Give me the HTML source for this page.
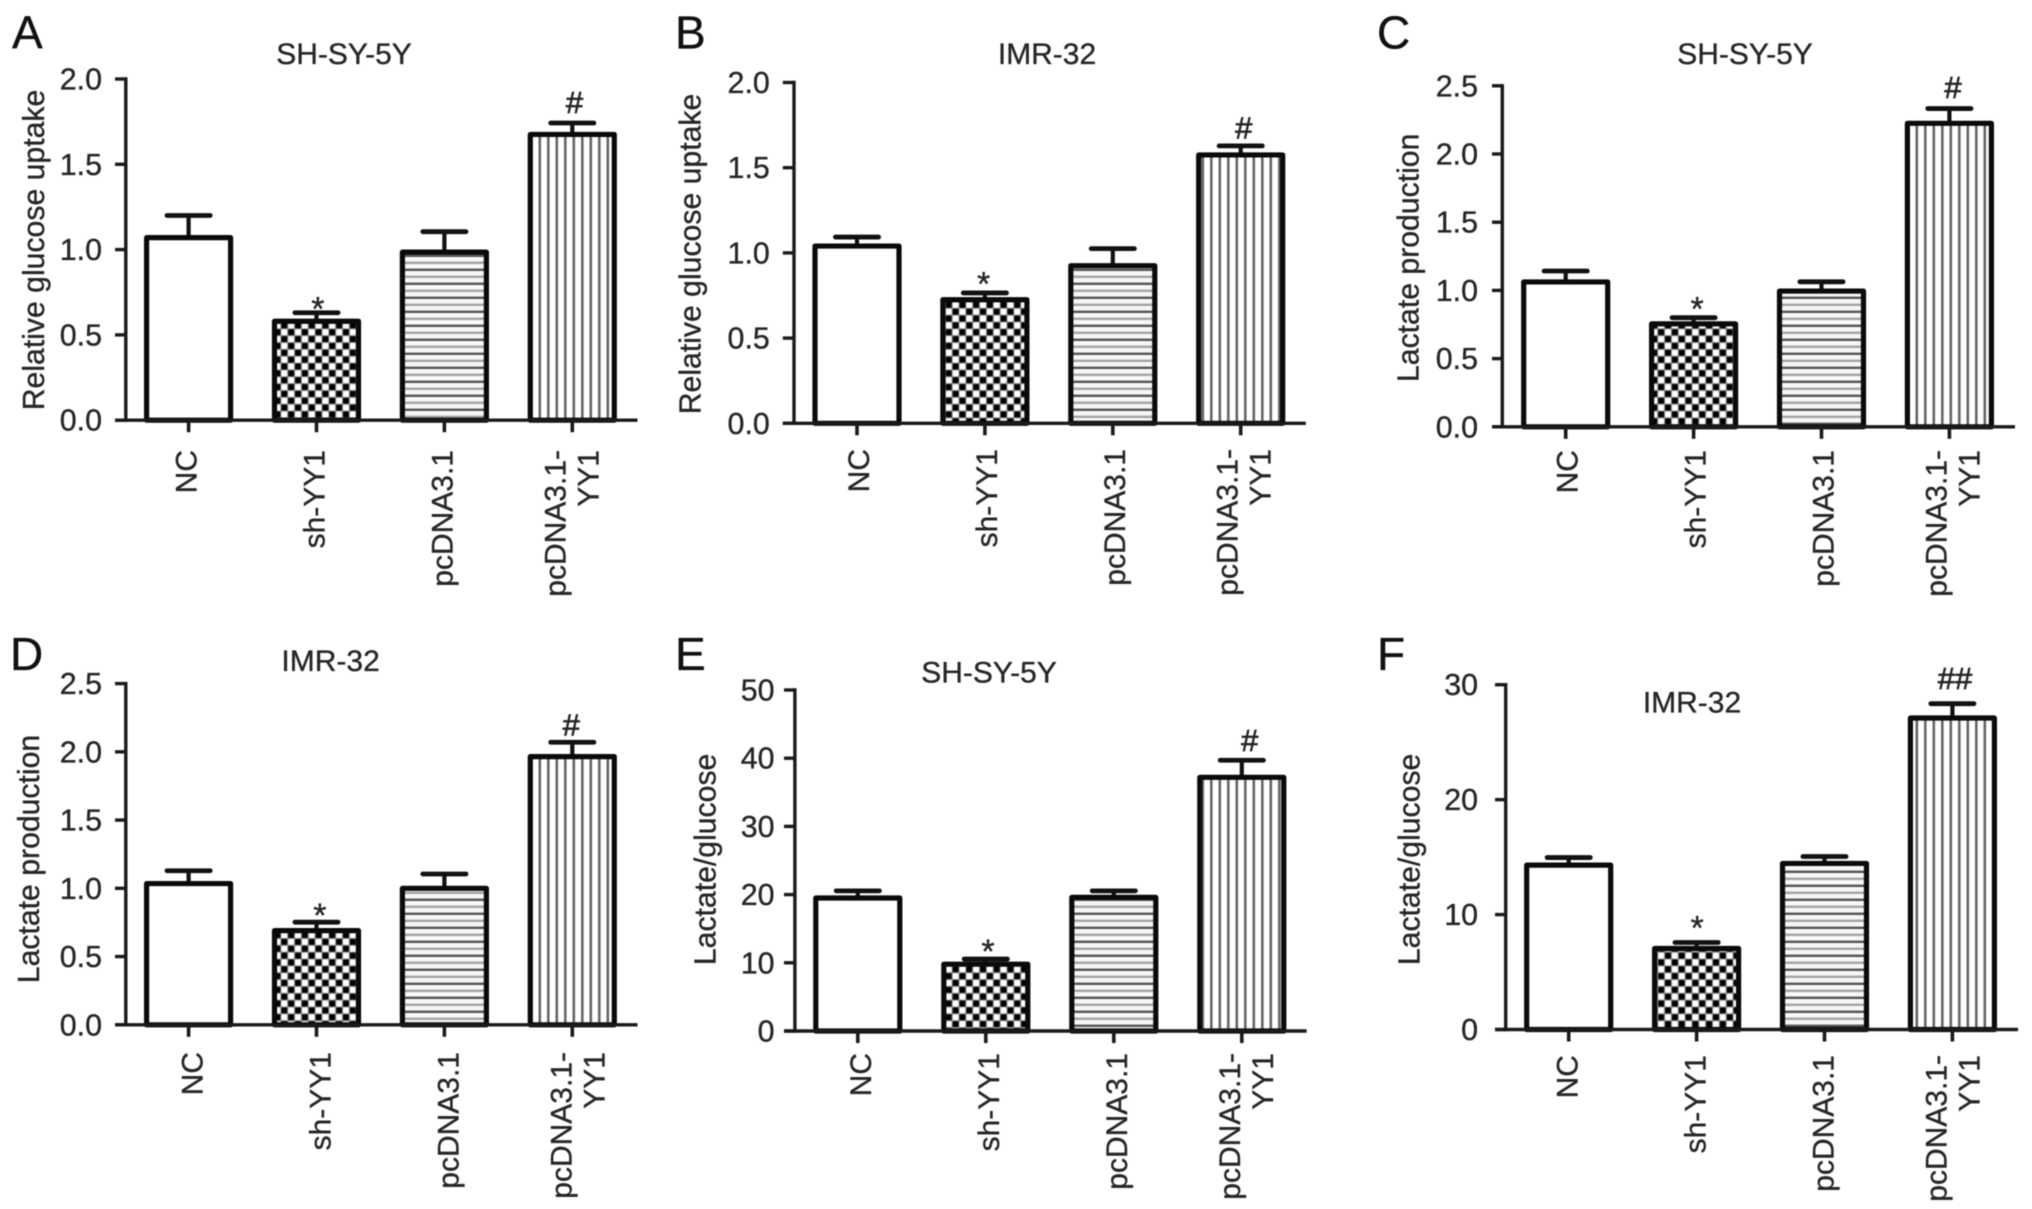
<!DOCTYPE html>
<html lang="en">
<head>
<meta charset="utf-8">
<title>Glucose uptake and lactate production panels</title>
<style>
html,body{margin:0;padding:0;background:#fff;width:2032px;height:1209px;overflow:hidden}
svg{display:block;filter:blur(0.6px)}
text{font-family:"Liberation Sans",Arial,sans-serif;fill:#262626;stroke:#262626;stroke-width:0.35px}
</style>
</head>
<body>
<svg id="figure" xmlns="http://www.w3.org/2000/svg" width="2032" height="1209" viewBox="0 0 2032 1209">
  <defs>
    <pattern id="fill-check" patternUnits="userSpaceOnUse" width="13.7" height="13.7">
      <rect width="13.7" height="13.7" fill="#8a8a8a"/>
      <rect x="0.6" y="0.6" width="5.7" height="5.7" fill="#000"/>
      <rect x="7.45" y="7.45" width="5.7" height="5.7" fill="#000"/>
      <rect x="7.45" y="0.6" width="5.7" height="5.7" fill="#fff"/>
      <rect x="0.6" y="7.45" width="5.7" height="5.7" fill="#fff"/>
    </pattern>
    <pattern id="fill-horizontal" patternUnits="userSpaceOnUse" width="10" height="14">
      <rect width="10" height="14" fill="#f6f6f6"/>
      <rect x="0" y="2.6" width="10" height="2.4" fill="#555"/>
      <rect x="0" y="9.6" width="10" height="2.4" fill="#a4a4a4"/>
    </pattern>
    <pattern id="fill-vertical" patternUnits="userSpaceOnUse" width="8.5" height="10">
      <rect width="8.5" height="10" fill="#fff"/>
      <rect x="3" y="0" width="2.6" height="10" fill="#666"/>
    </pattern>
  </defs>
  <g id="chart-root"></g>
</svg>
<script>
// Shared categories and tick labels
const categories = ['NC', 'sh-YY1', 'pcDNA3.1', 'pcDNA3.1-|YY1'];
const ticksGlucose = [0, 0.5, 1, 1.5, 2];
const ticksLactate = [0, 0.5, 1, 1.5, 2, 2.5];
const ticksRatioE = [0, 10, 20, 30, 40, 50];
const ticksRatioF = [0, 10, 20, 30];

// Bar means
const meansA = [1.07, 0.58, 0.985, 1.675];
const meansB = [1.04, 0.725, 0.925, 1.575];
const meansC = [1.062, 0.755, 0.995, 2.225];
const meansD = [1.035, 0.69, 1.0, 1.965];
const meansE = [19.5, 9.8, 19.6, 37.2];
const meansF = [14.3, 7.05, 14.45, 27.1];

// Upper error sizes
const errorsA = [0.13, 0.05, 0.12, 0.067];
const errorsB = [0.053, 0.04, 0.1, 0.053];
const errorsC = [0.08, 0.045, 0.068, 0.108];
const errorsD = [0.094, 0.062, 0.105, 0.105];
const errorsE = [1.05, 0.75, 0.95, 2.5];
const errorsF = [0.66, 0.52, 0.6, 1.25];

// Significance marks for each category
const marksA = ['', '*', '', '#'];
const marksB = ['', '*', '', '#'];
const marksC = ['', '*', '', '#'];
const marksD = ['', '*', '', '#'];
const marksE = ['', '*', '', '#'];
const marksF = ['', '*', '', '##'];

const fills = ['#fff', 'url(#fill-check)', 'url(#fill-horizontal)', 'url(#fill-vertical)'];
const barSlugs = ['nc', 'sh-yy1', 'pcdna', 'pcdna-yy1'];

const panels = [
  {id:'a', letter:'A', lx:12, ly:48.6, title:'SH-SY-5Y', tx:344, ty:64, yTitle:'Relative glucose uptake', ytx:44, yty:250,
   axisX:125.8, top:79, bottom:420.2, tickLeft:115, xEnd:637.5, cx0:188.6, step:127.9, max:2, ticks:ticksGlucose, dec:1, labelGap:13,
   labelDx:8, labelTop:450, means:meansA, errors:errorsA, marks:marksA, starGap:9, starDx:1.4, hashGap:9.8, hashDx:2.2},
  {id:'b', letter:'B', lx:675, ly:48.6, title:'IMR-32', tx:1047, ty:64, yTitle:'Relative glucose uptake', ytx:700.5, yty:254,
   axisX:794, top:82.5, bottom:423.3, tickLeft:782.8, xEnd:1305.8, cx0:857, step:127.9, max:2, ticks:ticksGlucose, dec:1, labelGap:13,
   labelDx:12, labelTop:449, means:meansB, errors:errorsB, marks:marksB, starGap:14.4, starDx:-1.3, hashGap:7.5, hashDx:3},
  {id:'c', letter:'C', lx:1377, ly:48.6, title:'SH-SY-5Y', tx:1745, ty:64, yTitle:'Lactate production', ytx:1418.5, yty:257.8,
   axisX:1502.3, top:85.8, bottom:426.8, tickLeft:1492, xEnd:2015, cx0:1565.7, step:127.9, max:2.5, ticks:ticksLactate, dec:1, labelGap:14,
   labelDx:12, labelTop:450, means:meansC, errors:errorsC, marks:marksC, starGap:14, starDx:3.5, hashGap:10.6, hashDx:3.6},
  {id:'d', letter:'D', lx:10, ly:670, title:'IMR-32', tx:330.6, ty:671, yTitle:'Lactate production', ytx:39, yty:859,
   axisX:125.8, top:683.6, bottom:1024.8, tickLeft:115, xEnd:637.5, cx0:188.6, step:127.9, max:2.5, ticks:ticksLactate, dec:1, labelGap:13,
   labelDx:14, labelTop:1052, means:meansD, errors:errorsD, marks:marksD, starGap:12, starDx:3.4, hashGap:7, hashDx:-1},
  {id:'e', letter:'E', lx:675, ly:670, title:'SH-SY-5Y', tx:989, ty:682.6, yTitle:'Lactate/glucose', ytx:715.5, yty:859.4,
   axisX:794.9, top:690, bottom:1031, tickLeft:784, xEnd:1306.6, cx0:857.8, step:128, max:50, ticks:ticksRatioE, dec:0, labelGap:9.5,
   labelDx:13, labelTop:1053, means:meansE, errors:errorsE, marks:marksE, starGap:13, starDx:2.2, hashGap:9, hashDx:8},
  {id:'f', letter:'F', lx:1377, ly:670, title:'IMR-32', tx:1692, ty:712.4, yTitle:'Lactate/glucose', ytx:1419.5, yty:859.4,
   axisX:1505.7, top:684.7, bottom:1029.5, tickLeft:1495, xEnd:2018, cx0:1568.7, step:127.9, max:30, ticks:ticksRatioF, dec:0, labelGap:17,
   labelDx:9, labelTop:1055, means:meansF, errors:errorsF, marks:marksF, starGap:20, starDx:0.5, hashGap:14.5, hashDx:2.6}
];

const NS = 'http://www.w3.org/2000/svg';
const root = document.getElementById('chart-root');

function make(tag, parent, attrs) {
  const node = document.createElementNS(NS, tag);
  for (const key in attrs) node.setAttribute(key, attrs[key]);
  parent.appendChild(node);
  return node;
}

function yScale(p, value) {
  return p.bottom - (value / p.max) * (p.bottom - p.top);
}

function xScale(p, index) {
  return p.cx0 + index * p.step;
}

function drawPanel(p) {
  const g = make('g', root, {});
  
  

  const letter = make('text', g, {x:p.lx, y:p.ly, 'font-size':46, style:'fill:#111;stroke:#111'});
  letter.textContent = p.letter;
  
  

  const title = make('text', g, {x:p.tx, y:p.ty, 'font-size':30, 'text-anchor':'middle'});
  title.textContent = p.title;
  
  

  const yTitle = make('text', g, {x:p.ytx, y:p.yty, 'font-size':30.2, 'text-anchor':'middle', transform:'rotate(-90 ' + p.ytx + ' ' + p.yty + ')'});
  yTitle.textContent = p.yTitle;
  
  

  p.means.forEach(function (mean, i) {
    const cx = xScale(p, i);
    const yTop = yScale(p, mean);
    const yCap = yScale(p, mean + p.errors[i]);

    const stem = make('line', g, {x1:cx, x2:cx, y1:yTop, y2:yCap, stroke:'#111', 'stroke-width':4.2});
    
    

    const cap = make('line', g, {x1:cx - 21.6, x2:cx + 21.6, y1:yCap, y2:yCap, stroke:'#111', 'stroke-width':4.8, 'stroke-linecap':'round'});
    
    

    const bar = make('rect', g, {x:cx - 42, y:yTop, width:84, height:p.bottom - yTop, fill:fills[i], stroke:'#0a0a0a', 'stroke-width':5.2, 'stroke-linejoin':'round'});
    
    

    const mark = p.marks[i];
    if (mark === '*') {
      const star = make('text', g, {x:cx + p.starDx, y:yCap - p.starGap + 17, 'font-size':34, 'text-anchor':'middle'});
      star.textContent = mark;
      
      
    } else if (mark) {
      const hash = make('text', g, {x:cx + p.hashDx, y:yCap - p.hashGap, 'font-size':31, 'text-anchor':'middle', style:'stroke-width:0.7px'});
      hash.textContent = mark;
      
      
    }
  });

  const yAxis = make('line', g, {x1:p.axisX, x2:p.axisX, y1:p.top - 1.7, y2:p.bottom + 1.7, stroke:'#1a1a1a', 'stroke-width':3.4});
  
  

  const xAxis = make('line', g, {x1:p.tickLeft, x2:p.xEnd, y1:p.bottom, y2:p.bottom, stroke:'#1a1a1a', 'stroke-width':3.4});
  
  

  p.ticks.forEach(function (value) {
    const yy = yScale(p, value);
    const tick = make('line', g, {x1:p.tickLeft, x2:p.axisX, y1:yy, y2:yy, stroke:'#1a1a1a', 'stroke-width':3.4});
    
    

    const label = make('text', g, {x:p.tickLeft - p.labelGap, y:yy + 10.5, 'font-size':30.4, 'text-anchor':'end'});
    label.textContent = value.toFixed(p.dec);
    
    
  });

  categories.forEach(function (category, i) {
    const cx = xScale(p, i);
    const tick = make('line', g, {x1:cx, x2:cx, y1:p.bottom, y2:p.bottom + 12, stroke:'#1a1a1a', 'stroke-width':3.6});
    
    

    const lines = category.split('|');
    lines.forEach(function (line, n) {
      let baseX = cx + p.labelDx;
      if (lines.length > 1) baseX = cx + p.labelDx + (n === 0 ? -15 : 18);
      const label = make('text', g, {x:baseX, y:p.labelTop, 'font-size':30, 'text-anchor':'end', transform:'rotate(-90 ' + baseX + ' ' + p.labelTop + ')'});
      label.textContent = line;
      
      
    });
  });
}

panels.forEach(drawPanel);
</script>
</body>
</html>
